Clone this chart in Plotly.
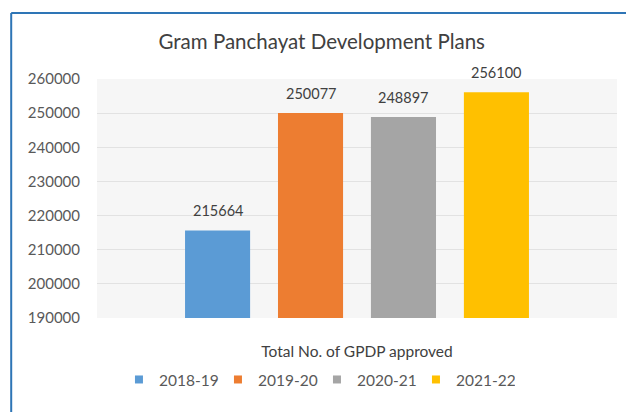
import plotly.graph_objects as go

# Gram Panchayat Development Plans approved, per financial year
category = "Total No. of GPDP approved"
years = ["2018-19", "2019-20", "2020-21", "2021-22"]
approved = [215664, 250077, 248897, 256100]
colors = ["#5b9bd5", "#ed7d31", "#a5a5a5", "#ffc000"]
y_ticks = [190000, 200000, 210000, 220000, 230000, 240000, 250000, 260000]

FONT = "Lato, 'Open Sans', sans-serif"
BARGAP = 0.285
BARGROUPGAP = 0.3

fig = go.Figure()
for yr, val, col in zip(years, approved, colors):
    fig.add_trace(go.Bar(
        name=yr,
        x=[category],
        y=[val],
        marker=dict(color=col, line=dict(width=0)),
        legendgroup=yr,
        showlegend=False,
    ))
    # small square swatch for the legend entry
    fig.add_trace(go.Scatter(
        name=yr,
        x=[None],
        y=[None],
        mode="markers",
        marker=dict(symbol="square", size=8, color=col),
        legendgroup=yr,
        showlegend=True,
    ))

# value labels above each bar, centred on the bar's slot within the group
group_w = 1 - BARGAP
slot = group_w / len(years)
annotations = []
for i, val in enumerate(approved):
    annotations.append(dict(
        x=-group_w / 2 + slot * (i + 0.5),
        y=val,
        xref="x", yref="y",
        text=str(val),
        showarrow=False,
        yanchor="bottom",
        yshift=9,
        font=dict(size=14.5, color="#404040", family=FONT),
    ))

fig.update_layout(
    width=626,
    height=412,
    margin=dict(l=97, r=9, t=79, b=94),
    paper_bgcolor="white",
    plot_bgcolor="#f6f6f6",
    barmode="group",
    bargap=BARGAP,
    bargroupgap=BARGROUPGAP,
    font=dict(family=FONT, color="#595959", size=14),
    title=dict(
        text="Gram Panchayat Development Plans",
        x=0.514, xanchor="center",
        y=1 - 42 / 412, yanchor="middle",
        font=dict(size=20.5, color="#404040", family=FONT),
    ),
    showlegend=True,
    legend=dict(
        orientation="h",
        x=0.423, xanchor="center",
        y=-0.259, yanchor="middle",
        font=dict(size=15.5, color="#595959"),
        itemwidth=30,
        entrywidth=54,
        entrywidthmode="pixels",
        traceorder="normal",
    ),
    xaxis=dict(
        showgrid=False,
        showline=False,
        ticks="",
        ticklabelstandoff=22,
        tickfont=dict(size=15.5, color="#404040"),
    ),
    yaxis=dict(
        range=[190000, 260000],
        tickvals=y_ticks,
        ticktext=[str(v) for v in y_ticks],
        showgrid=True,
        gridcolor="#e2e2e2",
        gridwidth=1,
        zeroline=False,
        showline=False,
        ticks="",
        ticklabelstandoff=16,
        tickfont=dict(size=15, color="#595959"),
    ),
    annotations=annotations,
    shapes=[
        # frame lines along the top and left edges
        dict(type="line", xref="paper", yref="paper",
             x0=-0.165, x1=1.2, y0=1.276, y1=1.276,
             line=dict(color="#2e75b6", width=2)),
        dict(type="line", xref="paper", yref="paper",
             x0=-0.165, x1=-0.165, y0=1.276, y1=-0.4,
             line=dict(color="#2e75b6", width=2)),
    ],
)

fig.write_html("out.html")
